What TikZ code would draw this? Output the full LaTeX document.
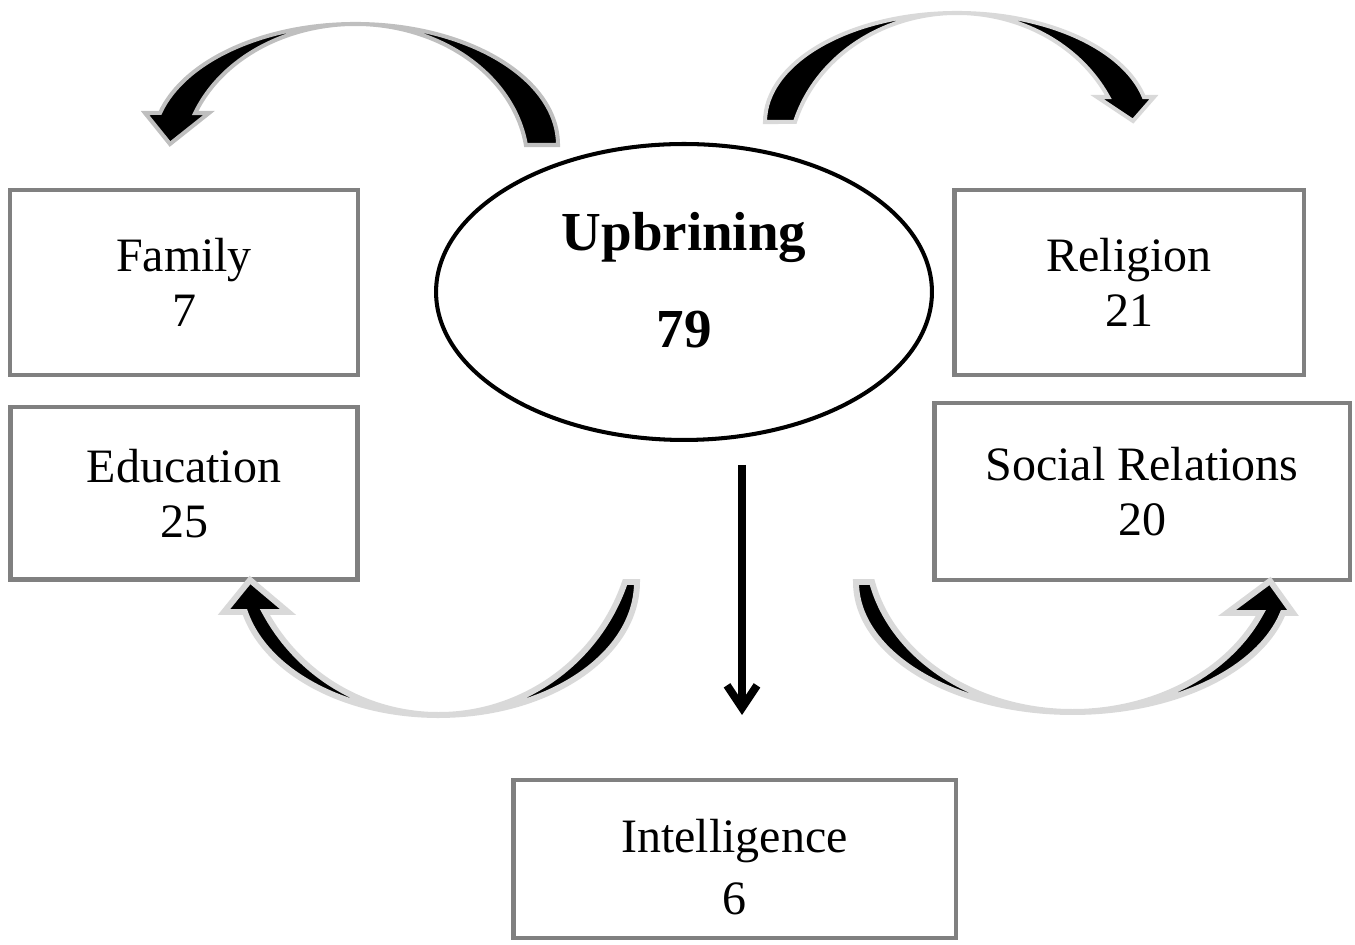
\documentclass[tikz,border=0pt]{standalone}
\usepackage{fontspec}
\setmainfont{Liberation Serif}
\usetikzlibrary{arrows.meta, positioning, shapes.geometric}
\tikzset{
	box/.style={rectangle, draw=gray, line width=2.8pt, outer sep=0pt, align=center,
		font=\fontsize{27.3pt}{31.3pt}\selectfont},
	oval/.style={ellipse, draw, line width=2.3pt, outer sep=0pt, align=center,
		font=\fontsize{31.3pt}{55.2pt}\selectfont\bfseries},
	downarr/.style={-{Straight Barb[length=0.45cm, width=0.6cm]}, line width=4.5pt},
	toparr/.style={fill=black, draw=gray!50, line width=2.3pt},
	botarr/.style={fill=black, draw=gray!30, line width=3.4pt},
}

\begin{document}
\begin{tikzpicture}[x=0.02cm, y=0.02cm]
	\useasboundingbox (0,0) rectangle (1355,945);
	\node[oval, minimum width=9.92cm, minimum height=5.92cm, text depth=0.48cm] (up) at (684,653) {Upbrining\\79};
	\node[box, minimum width=6.96cm, minimum height=3.70cm] (family) at (184,662.5) {Family\\7};
	\node[box, minimum width=6.94cm, minimum height=3.46cm, below=0.64cm of family] (educ) {Education\\25};
	\node[box, minimum width=7.00cm, minimum height=3.70cm] (relig) at (1129,662.5) {Religion\\21};
	\node[box, minimum width=8.32cm, minimum height=3.54cm] (social) at (1142,453.5) {Social Relations\\20};
	\node[box, minimum width=8.86cm, minimum height=3.16cm, text height=2.24cm,
		font=\fontsize{27.3pt}{35.2pt}\selectfont] (intel) at (734.5,86) {Intelligence\\6};

	\coordinate (s) at (742,480);
	\coordinate (e) at (742,230);
	\draw[downarr] (s) -- (e);

	\filldraw[toparr] (558,800) arc[start angle=0, end angle=164.66, x radius=202.6, y radius=121]
		-- (145,832) -- (170,801) -- (209,832) -- (195.2,832)
		arc[start angle=158.36, end angle=8.15, x radius=172.3, y radius=141] -- cycle;
	\filldraw[toparr, draw=gray!30] (765,823) arc[start angle=180, end angle=13.26, x radius=192, y radius=109]
		-- (1154,848) -- (1133,824) -- (1097,848) -- (1108.2,848)
		arc[start angle=26.34, end angle=163.85, x radius=168.7, y radius=151] -- cycle;
	\filldraw[botarr] (637,363) arc[start angle=0, end angle=-166.96, x radius=198.6, y radius=133]
		-- (224,333) -- (250,365) -- (288,333) -- (264.9,333)
		arc[start angle=-151.85, end angle=-18.54, x radius=196.8, y radius=195] -- cycle;
	\filldraw[botarr] (856,363) arc[start angle=180, end angle=346.2, x radius=216.6, y radius=130]
		-- (1293,332) -- (1270,364) -- (1227,332) -- (1260.8,332)
		arc[start angle=336.42, end angle=192.25, x radius=205.3, y radius=165] -- cycle;
\end{tikzpicture}
\end{document}
